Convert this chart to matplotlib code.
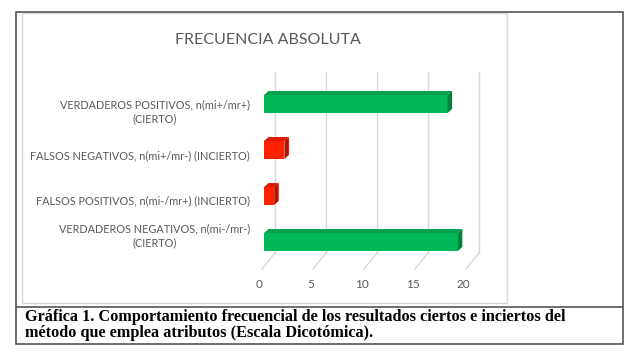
import matplotlib
matplotlib.use("Agg")
import matplotlib.pyplot as plt
from matplotlib.patches import Polygon, Rectangle
from matplotlib.lines import Line2D

# ------------------- datos -------------------
categorias = ["VERDADEROS POSITIVOS, n(mi+/mr+)\n(CIERTO)",
              "FALSOS NEGATIVOS, n(mi+/mr-) (INCIERTO)",
              "FALSOS POSITIVOS, n(mi-/mr+) (INCIERTO)",
              "VERDADEROS NEGATIVOS, n(mi-/mr-)\n(CIERTO)"]
frecuencias = [18, 2, 1, 19]
tipo = ["cierto", "incierto", "incierto", "cierto"]
ticks_x = [0, 5, 10, 15, 20]

titulo = "FRECUENCIA ABSOLUTA"
leyenda = ("Gráfica 1. Comportamiento frecuencial de los resultados ciertos e inciertos del\n"
           "método que emplea atributos (Escala Dicotómica).")

# colores (cara frontal, cara superior, cara lateral)
colores = {"cierto": ("#00b85a", "#00a04c", "#00803c"),
           "incierto": ("#ff2200", "#e01a00", "#b01500")}
gris_texto = "#595959"
gris_rejilla = "#d9d9d9"

# ------------------- figura -------------------
W, H = 640, 359
fig = plt.figure(figsize=(W / 100, H / 100), dpi=100)

x0, x1 = 264, 264 + 10.2 * 22
y_top, y_bot = 81, 265
ax = fig.add_axes([x0 / W, 1 - y_bot / H, (x1 - x0) / W, (y_bot - y_top) / H])
ax.set_xlim(0, 22)
ax.set_ylim(3.5, -0.5)
ax.axis("off")

ux = 22 / (x1 - x0)      # unidades x por pixel
uy = 4 / (y_bot - y_top)  # unidades y por pixel

# rejilla de fondo + suelo en perspectiva
for v in ticks_x:
    ax.add_line(Line2D([v + 11 * ux, v + 11 * ux], [-0.5 - 9 * uy, 3.5 - 12 * uy],
                       color=gris_rejilla, lw=1, clip_on=False, zorder=0))
    ax.add_line(Line2D([v + 11 * ux, v - 2 * ux], [3.5 - 12 * uy, 3.5 + 4 * uy],
                       color=gris_rejilla, lw=1, clip_on=False, zorder=0))
    ax.text(v - 4.5 * ux, 3.5 + 19 * uy, str(v), ha="center", va="center",
            fontsize=8.5, color=gris_texto, family="Lato")

# barras 3D
alto = 0.39
dx, dy = 4.5 * ux, 4 * uy
for i, (v, t) in enumerate(zip(frecuencias, tipo)):
    frente, arriba, lado = colores[t]
    ax.barh(i, v, height=alto, color=frente, zorder=3)
    yt, yb = i - alto / 2, i + alto / 2
    ax.add_patch(Polygon([(0, yt), (v, yt), (v + dx, yt - dy), (dx, yt - dy)],
                         closed=True, fc=arriba, ec="none", zorder=3))
    ax.add_patch(Polygon([(v, yt), (v + dx, yt - dy), (v + dx, yb - dy), (v, yb)],
                         closed=True, fc=lado, ec="none", zorder=3))

# etiquetas de categorias
desplaz = [8, 6, 5, -6]
for i, (c, d) in enumerate(zip(categorias, desplaz)):
    ax.text(-14 * ux, i + d * uy, c, ha="right", va="center", multialignment="center",
            fontsize=7.8, color=gris_texto, family="Lato", linespacing=1.3)

fig.text(268 / W, 1 - 40 / H, titulo, ha="center", va="center",
         fontsize=11.5, color=gris_texto, family="Lato")

# marcos
fig.add_artist(Rectangle((22 / W, 1 - 303 / H), (507 - 22) / W, (303 - 13) / H,
                         transform=fig.transFigure, fill=False, ec=gris_rejilla, lw=1))
fig.add_artist(Rectangle((16 / W, 1 - 344 / H), (623 - 16) / W, (344 - 12) / H,
                         transform=fig.transFigure, fill=False, ec="#555555", lw=1.2))
fig.add_artist(Line2D([16 / W, 623 / W], [1 - 307 / H, 1 - 307 / H],
                      transform=fig.transFigure, color="#555555", lw=1.2))

fig.text(25 / W, 1 - 325 / H, leyenda, ha="left", va="center",
         fontsize=11.7, fontweight="bold", family="Liberation Serif", linespacing=0.95)

fig.savefig("out.png", dpi=100)
